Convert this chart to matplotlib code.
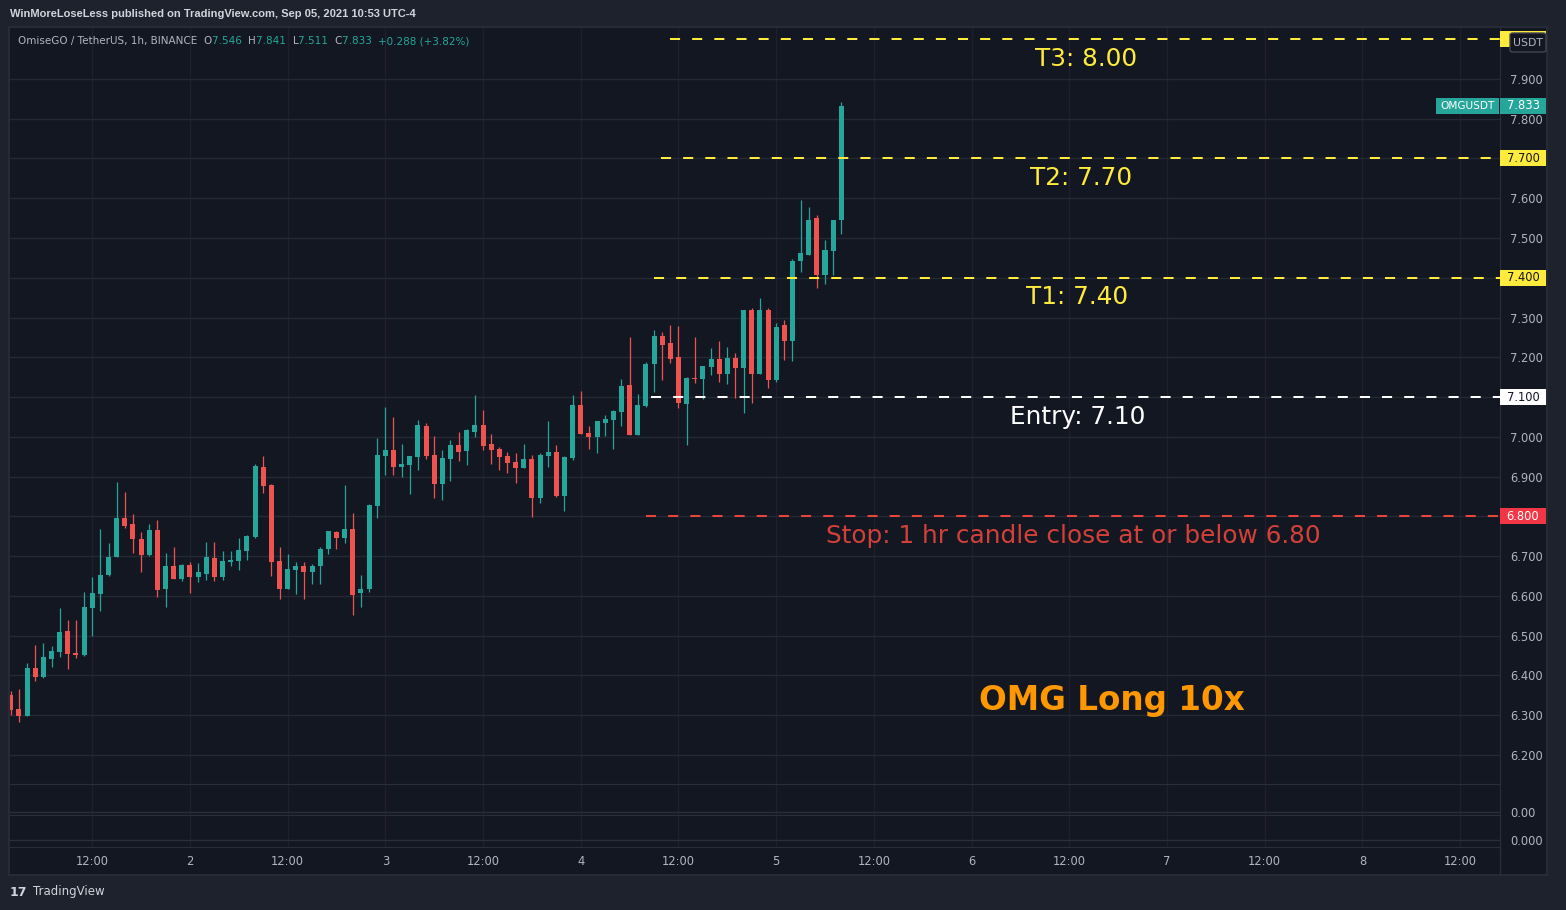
import matplotlib
matplotlib.use("Agg")
import matplotlib.pyplot as plt
import matplotlib.transforms as mtransforms
from matplotlib.patches import Rectangle, FancyBboxPatch
from matplotlib.lines import Line2D
from matplotlib.offsetbox import TextArea, HPacker, AnchoredOffsetbox
import numpy as np

# --- data: OMG/USDT 1h candles, index 0 = Sep 1 02:00 ---
opens = [6.350, 6.316, 6.299, 6.418, 6.397, 6.441, 6.459, 6.511, 6.456, 6.451,
         6.569, 6.604, 6.652, 6.699, 6.795, 6.780, 6.744, 6.702, 6.766, 6.618,
         6.676, 6.643, 6.678, 6.648, 6.656, 6.696, 6.648, 6.686, 6.688, 6.713,
         6.748, 6.923, 6.878, 6.688, 6.618, 6.666, 6.674, 6.659, 6.676, 6.719,
         6.761, 6.746, 6.769, 6.608, 6.618, 6.827, 6.952, 6.967, 6.924, 6.929,
         6.950, 7.027, 6.955, 6.882, 6.945, 6.980, 6.965, 7.013, 7.030, 6.982,
         6.970, 6.952, 6.937, 6.922, 6.945, 6.846, 6.952, 6.962, 6.851, 6.947,
         7.080, 7.010, 7.000, 7.035, 7.043, 7.063, 7.130, 7.005, 7.078, 7.183,
         7.253, 7.236, 7.200, 7.083, 7.148, 7.146, 7.176, 7.195, 7.157, 7.197,
         7.172, 7.320, 7.159, 7.320, 7.144, 7.280, 7.242, 7.441, 7.458, 7.549,
         7.408, 7.466, 7.546]
highs = [6.360, 6.366, 6.431, 6.476, 6.481, 6.474, 6.569, 6.539, 6.539, 6.609,
         6.647, 6.767, 6.734, 6.887, 6.862, 6.805, 6.760, 6.780, 6.791, 6.708,
         6.723, 6.681, 6.686, 6.683, 6.736, 6.736, 6.713, 6.713, 6.746, 6.754,
         6.931, 6.953, 6.881, 6.723, 6.706, 6.684, 6.684, 6.679, 6.724, 6.764,
         6.762, 6.879, 6.809, 6.653, 6.831, 6.997, 7.075, 7.050, 6.982, 6.952,
         7.042, 7.035, 7.003, 6.967, 6.992, 7.013, 7.020, 7.106, 7.068, 7.008,
         6.975, 6.962, 6.960, 6.982, 6.955, 6.960, 7.040, 6.980, 6.952, 7.106,
         7.115, 7.028, 7.040, 7.055, 7.068, 7.145, 7.251, 7.108, 7.188, 7.268,
         7.263, 7.281, 7.278, 7.150, 7.251, 7.178, 7.223, 7.242, 7.227, 7.210,
         7.320, 7.323, 7.350, 7.323, 7.285, 7.295, 7.446, 7.596, 7.579, 7.559,
         7.496, 7.546, 7.841]
lows = [6.300, 6.284, 6.298, 6.387, 6.393, 6.421, 6.446, 6.416, 6.443, 6.449,
        6.499, 6.561, 6.650, 6.697, 6.770, 6.709, 6.659, 6.700, 6.596, 6.573,
        6.643, 6.638, 6.608, 6.636, 6.641, 6.638, 6.641, 6.676, 6.666, 6.691,
        6.746, 6.858, 6.651, 6.591, 6.617, 6.606, 6.593, 6.631, 6.631, 6.706,
        6.719, 6.734, 6.553, 6.573, 6.611, 6.797, 6.904, 6.904, 6.899, 6.857,
        6.917, 6.945, 6.846, 6.841, 6.889, 6.940, 6.929, 7.000, 6.967, 6.932,
        6.917, 6.909, 6.884, 6.922, 6.798, 6.834, 6.924, 6.849, 6.813, 6.942,
        7.008, 6.970, 6.960, 7.003, 6.970, 7.028, 7.005, 7.005, 7.075, 7.113,
        7.143, 7.186, 7.073, 6.980, 7.135, 7.094, 7.156, 7.139, 7.134, 7.097,
        7.061, 7.084, 7.159, 7.124, 7.137, 7.192, 7.190, 7.415, 7.456, 7.375,
        7.385, 7.408, 7.511]
closes = [6.314, 6.299, 6.418, 6.397, 6.446, 6.461, 6.509, 6.453, 6.451, 6.571,
          6.607, 6.652, 6.699, 6.795, 6.777, 6.744, 6.702, 6.765, 6.616, 6.676,
          6.643, 6.678, 6.648, 6.661, 6.698, 6.648, 6.688, 6.691, 6.716, 6.751,
          6.926, 6.876, 6.686, 6.618, 6.668, 6.674, 6.659, 6.676, 6.719, 6.764,
          6.746, 6.769, 6.603, 6.618, 6.829, 6.955, 6.967, 6.924, 6.932, 6.952,
          7.030, 6.952, 6.882, 6.947, 6.980, 6.962, 7.018, 7.030, 6.977, 6.967,
          6.950, 6.934, 6.922, 6.945, 6.846, 6.955, 6.962, 6.851, 6.950, 7.081,
          7.008, 7.000, 7.040, 7.045, 7.065, 7.128, 7.005, 7.080, 7.183, 7.253,
          7.231, 7.196, 7.085, 7.148, 7.146, 7.178, 7.196, 7.157, 7.197, 7.172,
          7.320, 7.159, 7.320, 7.144, 7.277, 7.242, 7.443, 7.463, 7.546, 7.408,
          7.471, 7.545, 7.833]

# trade levels drawn on the chart
level_prices = [8.00, 7.70, 7.40, 7.10, 6.80]
level_texts = ["T3: 8.00", "T2: 7.70", "T1: 7.40", "Entry: 7.10",
               "Stop: 1 hr candle close at or below 6.80"]

# time axis (hours from first candle)
time_ticks = [10, 22, 34, 46, 58, 70, 82, 94, 106, 118, 130, 142, 154, 166, 178]
time_labels = ["12:00", "2", "12:00", "3", "12:00", "4", "12:00", "5",
               "12:00", "6", "12:00", "7", "12:00", "8", "12:00"]
price_ticks = [6.2, 6.3, 6.4, 6.5, 6.6, 6.7, 6.8, 6.9, 7.0, 7.1, 7.2, 7.3, 7.4, 7.5, 7.6, 7.7, 7.8, 7.9]

# --- style ---
BG = '#131722'
OUTER = '#1e222d'
BORDER = '#2a2e39'
HGRID = '#252934'
VGRID = '#211e2d'
UP = '#26a69a'
DOWN = '#ef5350'
TXT = '#b2b5be'
YELLOW = '#ffeb3b'
STOP_RED = '#e8453c'

W, H = 1566, 910
fig = plt.figure(figsize=(W / 100, H / 100), dpi=100, facecolor=OUTER)


def px_axes(x0, y0, x1, y1):
    return fig.add_axes([x0 / W, 1 - y1 / H, (x1 - x0) / W, (y1 - y0) / H])


def px(x, y):
    return x / W, 1 - y / H


# chart frame
fig.add_artist(Rectangle(px(9, 875), 1538 / W, 848 / H, transform=fig.transFigure,
                         facecolor=BG, edgecolor=BORDER, lw=1.2, zorder=0))

XLIM = (-0.1, 182.9)

ax = px_axes(10, 28, 1500, 784)
ax2 = px_axes(10, 784, 1500, 815)
ax3 = px_axes(10, 815, 1500, 847)

for a in (ax, ax2, ax3):
    a.set_facecolor(BG)
    a.set_xlim(*XLIM)
    a.set_xticks(time_ticks)
    a.xaxis.grid(True, color=VGRID, lw=1)
    a.yaxis.tick_right()
    a.tick_params(axis='both', length=0, colors=TXT, labelsize=8.3)
    a.tick_params(axis='y', pad=7.5)
    a.tick_params(axis='x', labelbottom=False)
    a.spines['left'].set_visible(False)
    for s in ('right', 'top', 'bottom'):
        a.spines[s].set_color(BORDER)
    a.set_axisbelow(True)

ax.spines['top'].set_visible(False)

# main price pane; tick labels hidden where a level tag sits on the axis
tagged = [round(p, 2) for p in level_prices]
ax.set_ylim(6.127, 8.028)
ax.set_yticks(price_ticks)
ax.set_yticklabels(["" if round(p, 2) in tagged else f"{p:.3f}" for p in price_ticks])
ax.yaxis.grid(True, color=HGRID, lw=1)

x = np.arange(len(opens))
o = np.array(opens)
h = np.array(highs)
l = np.array(lows)
c = np.array(closes)
colors = np.where(c >= o, UP, DOWN)
ax.vlines(x, l, h, colors=colors, lw=0.9, zorder=3)
body_h = np.maximum(np.abs(c - o), 0.003)
ax.bar(x, body_h, bottom=np.minimum(o, c), width=0.62, color=colors, lw=0, zorder=4)

# level lines + labels
level_colors = [YELLOW, YELLOW, YELLOW, 'white', STOP_RED]
level_starts = [81.0, 79.8, 79.0, 78.6, 78.0]
level_text_x = [132.0, 131.4, 131.0, 131.0, 130.5]
for p, t, col, xs, xt in zip(level_prices, level_texts, level_colors, level_starts, level_text_x):
    ax.hlines(p, xs, XLIM[1], colors=col, lw=1.45, linestyles=(0, (5, 6)), zorder=5)
    ax.text(xt, p - 0.049, t, color=col, fontsize=17.8, ha='center', va='center',
            alpha=0.9 if col == STOP_RED else 1.0, zorder=6)

ax.text(135.2, 6.338, "OMG Long 10x", color='#ff9800', fontsize=23.5, fontweight='bold',
        ha='center', va='center', zorder=6)

# price tags on the right axis
tr = mtransforms.blended_transform_factory(ax.transAxes, ax.transData)
tag_w = 46 / 1490
tag_h = 16 / 397.6


def price_tag(price, text, fc, tc):
    ax.add_patch(Rectangle((1.0, price - tag_h / 2), tag_w, tag_h, transform=tr,
                           facecolor=fc, edgecolor='none', clip_on=False, zorder=10))
    if text:
        ax.text(1.0 + tag_w / 2, price, text, transform=tr, color=tc, fontsize=8.3,
                ha='center', va='center', clip_on=False, zorder=11)


price_tag(8.00, "", YELLOW, BG)  # mostly hidden behind the USDT box
price_tag(7.70, "7.700", YELLOW, BG)
price_tag(7.40, "7.400", YELLOW, BG)
price_tag(7.10, "7.100", 'white', BG)
price_tag(6.80, "6.800", '#f23645', 'white')
price_tag(closes[-1], f"{closes[-1]:.3f}", UP, 'white')
sym_w = 63 / 1490
ax.add_patch(Rectangle((1.0 - sym_w - 0.0007, closes[-1] - tag_h / 2), sym_w, tag_h, transform=tr,
                       facecolor=UP, edgecolor='none', clip_on=False, zorder=10))
ax.text(1.0 - sym_w / 2 - 0.0007, closes[-1], "OMGUSDT", transform=tr, color='white',
        fontsize=7.6, ha='center', va='center', clip_on=False, zorder=11)

# USDT currency box
fig.add_artist(FancyBboxPatch(px(1510, 52), 36 / W, 19 / H, transform=fig.transFigure,
                              boxstyle="round,pad=0,rounding_size=0.002",
                              facecolor=BG, edgecolor='#434651', lw=1, zorder=20))
fig.text(*px(1528, 42.5), "USDT", color=TXT, fontsize=7.8, ha='center', va='center', zorder=21)

# indicator panes
ax2.set_ylim(-0.1, 0.9)
ax2.set_yticks([0])
ax2.set_yticklabels(["0.00"])
ax2.axhline(0, color=BORDER, lw=1)
ax3.set_ylim(-0.22, 0.78)
ax3.set_yticks([0])
ax3.set_yticklabels(["0.000"])
ax3.axhline(0, color=BORDER, lw=1)
ax3.tick_params(axis='x', labelbottom=True, pad=5.5)
ax3.set_xticklabels(time_labels)

# time-axis row border on the right
fig.add_artist(Line2D([1500 / W, 1500 / W], [1 - 875 / H, 1 - 847 / H],
                      transform=fig.transFigure, color=BORDER, lw=1))

# header texts
fig.text(*px(10, 14), "WinMoreLoseLess published on TradingView.com, Sep 05, 2021 10:53 UTC-4",
         color='#d1d4dc', fontsize=8, fontfamily='Liberation Sans', fontweight='bold',
         ha='left', va='center')

chg = closes[-1] - closes[-2]
parts = [("OmiseGO / TetherUS, 1h, BINANCE  ", TXT), ("O", TXT), (f"{opens[-1]:.3f}  ", UP),
         ("H", TXT), (f"{highs[-1]:.3f}  ", UP), ("L", TXT), (f"{lows[-1]:.3f}  ", UP),
         ("C", TXT), (f"{closes[-1]:.3f}  ", UP),
         (f"+{chg:.3f} (+{chg / closes[-2] * 100:.2f}%)", UP)]
boxes = [TextArea(s, textprops=dict(color=col, fontsize=7.5)) for s, col in parts]
header = AnchoredOffsetbox(loc='center left', child=HPacker(children=boxes, pad=0, sep=0),
                           frameon=False, pad=0, borderpad=0,
                           bbox_to_anchor=px(18, 41), bbox_transform=fig.transFigure)
fig.add_artist(header)

# footer logo
fig.text(*px(10, 892), "17", color='#d1d4dc', fontsize=9, fontweight='bold', ha='left', va='center')
fig.text(*px(33, 892), "TradingView", color='#d1d4dc', fontsize=8.5, ha='left', va='center')

fig.savefig("out.png", dpi=100, facecolor=OUTER)
